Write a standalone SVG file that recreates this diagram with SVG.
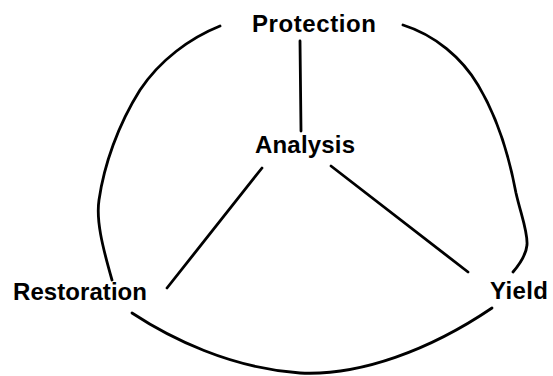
<svg xmlns="http://www.w3.org/2000/svg" width="553" height="376" viewBox="0 0 553 376">
<style>
.lbl{font-family:"Liberation Sans",Arial,sans-serif;font-weight:bold;font-size:24px;fill:#000}
.c{fill:none;stroke:#000;stroke-width:2.8;stroke-linecap:round;stroke-linejoin:round}
</style>
<rect width="553" height="376" fill="#fff"/>
<g id="connectors">
<path class="c" d="M220,26 C190,38 160,60 140,90 C118,125 104,165 99,200 C96,220 102,245 112,280"/>
<path class="c" d="M403,25 C435,35 462,58 478,85 C496,115 508,150 516,193 C521,215 528,232 527,245 C526,255 519,265 513,272"/>
<path class="c" d="M132,313 C170,338 230,368 300,373 C360,376 430,350 492,308"/>
<path class="c" d="M300,41 L301,131"/>
<path class="c" d="M262,168 L167,288"/>
<path class="c" d="M331,166 L468,272"/>
</g>
<g id="protection"><text class="lbl" x="252" y="31.5" textLength="124" lengthAdjust="spacing">Protection</text></g>
<g id="analysis"><text class="lbl" x="255" y="153" textLength="100" lengthAdjust="spacing">Analysis</text></g>
<g id="restoration"><text class="lbl" x="13" y="300" textLength="134" lengthAdjust="spacing">Restoration</text></g>
<g id="yield"><text class="lbl" x="490" y="299" textLength="58" lengthAdjust="spacing">Yield</text></g>
</svg>
